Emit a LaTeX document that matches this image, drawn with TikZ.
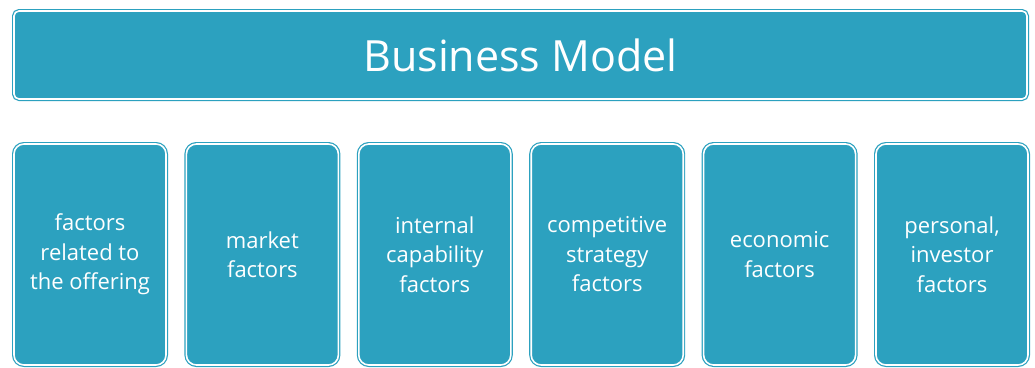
\documentclass[tikz,border=0pt]{standalone}
\usepackage{fontspec}
\setmainfont{Open Sans}
\usetikzlibrary{positioning}

\definecolor{teal}{RGB}{44,161,191}

\begin{document}
\begin{tikzpicture}[x=1pt, y=-1pt, font=\fontsize{22}{29.5}\selectfont]
    \useasboundingbox (0,0) rectangle (1035,367);
    \tikzset{
        tealbox/.style={rectangle, fill=teal, draw=teal, double=white, line width=1.2pt,
            double distance=1.6pt, text=white, inner sep=0pt, align=center}
    }
    % 顶部标题框
    \node[tealbox, rounded corners=5pt, minimum width=1013pt, minimum height=88pt,
        font=\fontsize{43}{50}\selectfont] (BM) at (520.5,55) {Business Model};

    % 六个因素框
    \foreach \x [count=\i] in {factors\\related to\\the offering, market\\factors,
        internal\\capability\\factors, competitive\\strategy\\factors,
        economic\\factors, {personal,\\investor\\factors}} {
        \node[tealbox, rounded corners=10pt, minimum width=152pt, minimum height=221pt]
            (F\i) at (90+\i*172.4-172.4,254.5) {\x};
    }
\end{tikzpicture}
\end{document}
